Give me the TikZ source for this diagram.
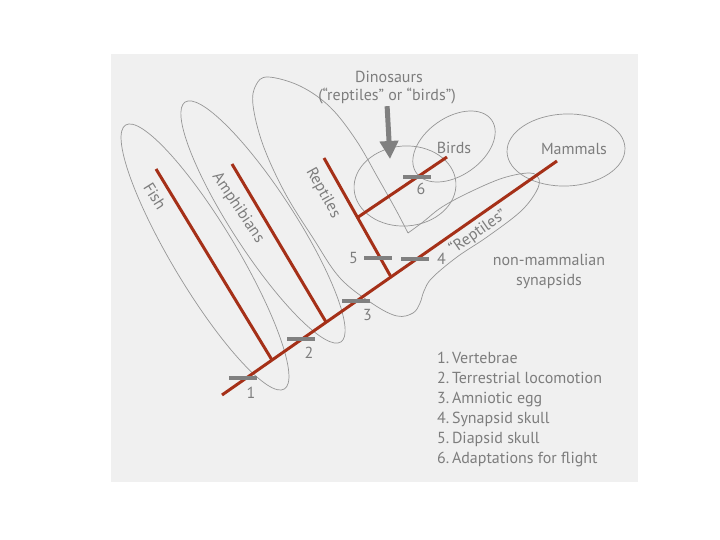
\documentclass[tikz,border=0pt]{standalone}
\usepackage{fontspec}
\setmainfont{PT Sans}
\usetikzlibrary{arrows.meta,calc}
\definecolor{bg}{RGB}{240,240,240}
\definecolor{txtgray}{RGB}{125,125,125}
\definecolor{linegray}{RGB}{150,150,150}
\definecolor{bargray}{RGB}{128,128,128}
\definecolor{branchred}{RGB}{165,48,24}
\tikzset{
  branch/.style={draw=branchred, line width=3pt},
  outline/.style={draw=linegray, line width=0.7pt},
  bar/.style={fill=bargray, minimum width=28pt, minimum height=4pt, inner sep=0pt},
  lbl/.style={text=txtgray, font=\fontsize{16}{20}\selectfont, inner sep=0pt},
  legendline/.style={lbl, anchor=base west},
  bigarrow/.style={draw=bargray, line width=5pt, -{Triangle[length=18pt,width=18pt]}},
}
\begin{document}
\begin{tikzpicture}[x=1pt,y=-1pt]
\useasboundingbox (0,0) rectangle (720,540);
\fill[bg] (111,54) rectangle (638,482);

\draw[outline,shift={(205,257)},rotate=-59] (0,0) ellipse (154 and 32);
\draw[outline,shift={(263,222)},rotate=-57] (0,0) ellipse (143 and 31);
\draw[outline] plot[smooth,tension=.6] coordinates {(408,233) (423,222) (442,207) (470,192)
  (503,178) (530,173) (539,179) (536,192) (520,212) (487,237) (457,257) (432,278)
  (424,291) (420,303) (413,313) (397,316) (373,304) (340,278) (313,238) (285,193)
  (263,145) (253,105) (256,85) (268,77) (300,86) (330,107) (356,140) (378,178)
  (396,210) (408,233)};
\draw[outline,shift={(405,186)},rotate=4] (0,0) ellipse (51 and 40);
\draw[outline,shift={(454,146.5)},rotate=35] (0,0) ellipse (46 and 29);
\draw[outline,shift={(566,150)},rotate=2] (0,0) ellipse (59 and 36);

\coordinate (root) at (222,395);
\coordinate (crown) at (557,161);
\coordinate (fishT) at (156,169);
\coordinate (fishJ) at (272,360);
\coordinate (amphT) at (232,164);
\coordinate (amphJ) at (326,322);
\coordinate (reptT) at (324,158);
\coordinate (reptJ) at (391,277);
\coordinate (birdJ) at ($(reptT)!.5!(reptJ)$);
\coordinate (birdT) at (447,157);

\draw[branch] (root) -- (crown);
\draw[branch] (fishT) -- (fishJ);
\draw[branch] (amphT) -- (amphJ);
\draw[branch] (reptT) -- (reptJ);
\draw[branch] (birdJ) -- (birdT);

\node[bar] at (243,378) (m1) {};
\node[bar] at (301,339) (m2) {};
\node[bar] at (355.5,301) (m3) {};
\node[bar] at (414.5,259) (m4) {};
\node[bar] at (378,258) (m5) {};
\node[bar] at (416.5,177) (m6) {};

\node[lbl] at (251,393) (n1) {1};
\node[lbl] at (309,353) (n2) {2};
\node[lbl] at (367.5,315) (n3) {3};
\node[lbl] at (441.5,259) (n4) {4};
\node[lbl] at (353.5,258) (n5) {5};
\node[lbl] at (421,189) (n6) {6};

\node[lbl,rotate=-58] at (155,196) (fish) {Fish};
\node[lbl,rotate=-56] at (238,208) (amph) {Amphibians};
\node[lbl,rotate=-61] at (323,193) (rept) {Reptiles};
\node[lbl,rotate=35] at (478,232) (reptq) {“Reptiles”};
\node[lbl] at (454,148) (birds) {Birds};
\node[lbl] at (574,149) (mammals) {Mammals};
\node[lbl,align=center] at (549,271) (synap) {non-mammalian\\synapsids};

\node[lbl] at (389,77) (dinoA) {Dinosaurs};
\node[lbl] at (387,96) (dinoB) {(“reptiles” or “birds”)};
\coordinate (dinoTip) at (390,159);
\draw[bigarrow,shorten <=2pt] (dinoB.south) -- (dinoTip);

\node[legendline] at (437,363) (l1) {1.\,Vertebrae};
\node[legendline] at (437,383) (l2) {2.\,Terrestrial locomotion};
\node[legendline] at (437,403) (l3) {3.\,Amniotic egg};
\node[legendline] at (437,423) (l4) {4.\,Synapsid skull};
\node[legendline] at (437,443) (l5) {5.\,Diapsid skull};
\node[legendline] at (437,463) (l6) {6.\,Adaptations for flight};
\end{tikzpicture}
\end{document}
